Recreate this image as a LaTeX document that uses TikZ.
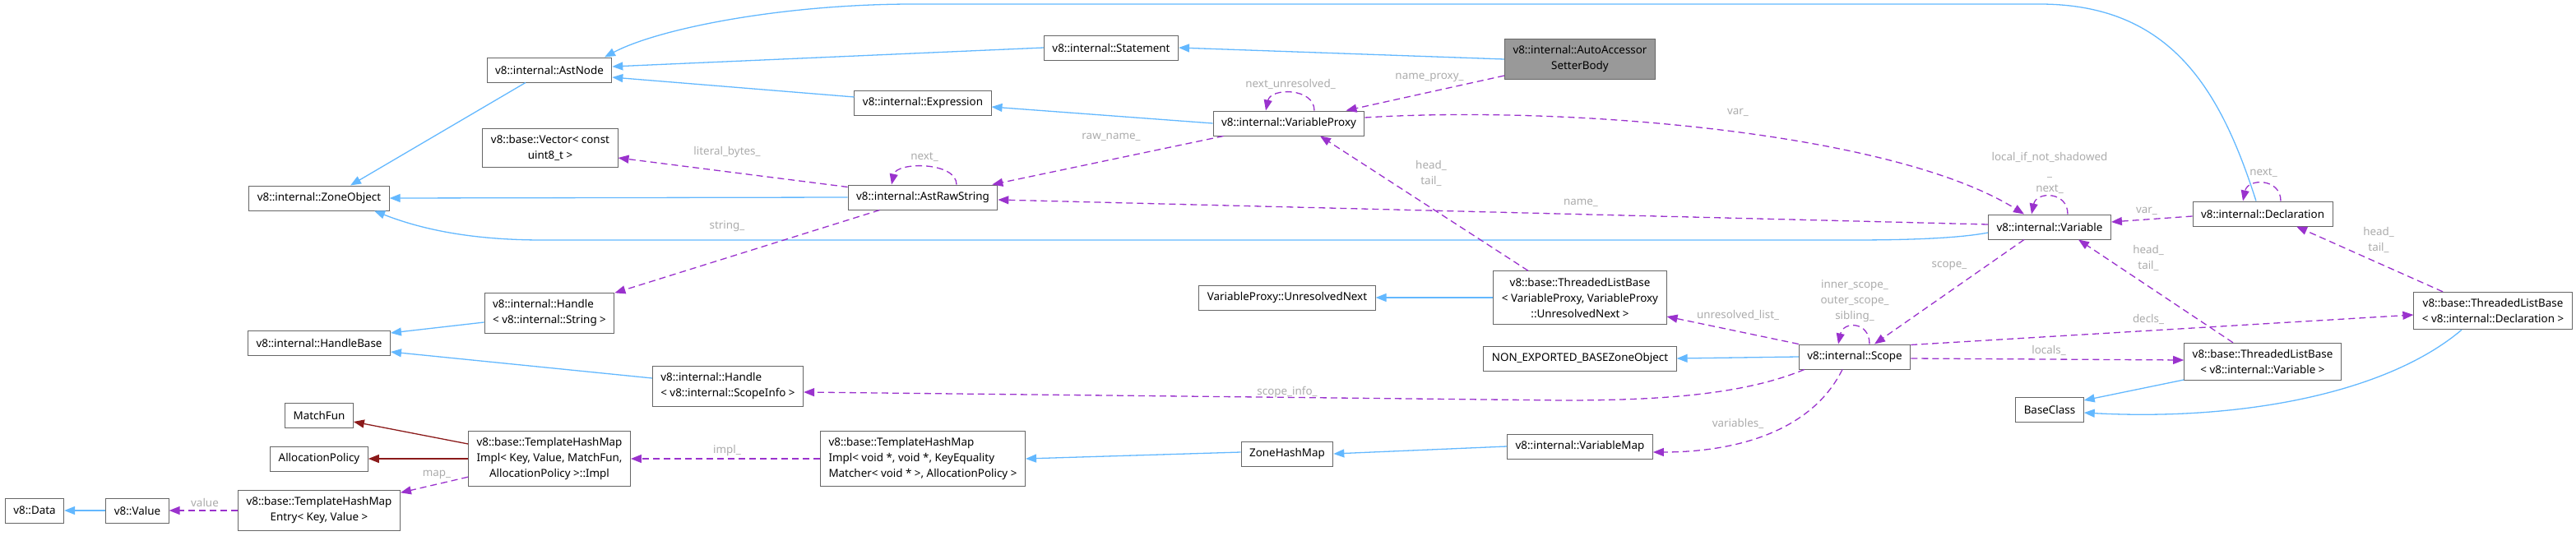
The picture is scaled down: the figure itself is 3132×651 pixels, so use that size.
\documentclass[tikz,border=0pt]{standalone}
\usepackage{fontspec}
\setmainfont{Noto Sans}
\usetikzlibrary{arrows.meta,calc}

\definecolor{inhblue}{HTML}{63B8FF}
\definecolor{usepurple}{HTML}{9A32CD}
\definecolor{tmplred}{HTML}{8B1A1A}
\definecolor{boxgray}{HTML}{666666}
\definecolor{focusgray}{HTML}{999999}
\definecolor{lblgray}{HTML}{ABABAB}

\tikzset{
    cls/.style={draw=boxgray, line width=1pt, fill=white, inner xsep=10pt, inner ysep=8pt,
        minimum height=30pt, font=\fontsize{13.4}{19}\selectfont, align=center},
    clsleft/.style={cls, align=left},
    focus/.style={cls, fill=focusgray},
    inh/.style={draw=inhblue, line width=1.3pt, -{Triangle[length=13pt,width=10pt]}},
    usage/.style={draw=usepurple, line width=1.3pt, dash pattern=on 8pt off 5pt,
        -{Triangle[length=13pt,width=10pt]}},
    tmpl/.style={draw=tmplred, line width=1.3pt, -{Triangle[length=13pt,width=10pt]}},
    lbl/.style={text=lblgray, font=\fontsize{13.4}{19}\selectfont, inner sep=0pt, align=center},
}

\begin{document}
\begin{tikzpicture}[x=1pt, y=-1pt]
    \useasboundingbox (0,0) rectangle (3132,651);

    %classes
    \node[cls] (Data) at (42,621) {v8::Data};
    \node[cls] (Value) at (167,621) {v8::Value};
    \node[cls] (ZoneObject) at (388,241) {v8::internal::ZoneObject};
    \node[cls] (HandleBase) at (388,417) {v8::internal::HandleBase};
    \node[cls] (MatchFun) at (388,505) {MatchFun};
    \node[cls] (AllocationPolicy) at (388,558) {AllocationPolicy};
    \node[cls] (HashMapEntry) at (388,621) {v8::base::TemplateHashMap\\Entry< Key, Value >};
    \node[cls] (AstNode) at (668,85) {v8::internal::AstNode};
    \node[cls] (Vector) at (669,180) {v8::base::Vector< const\\uint8\_t >};
    \node[clsleft] (HandleString) at (668,381) {v8::internal::Handle\\< v8::internal::String >};
    \node[cls] (HashMapImplKey) at (668,558) {v8::base::TemplateHashMap\\Impl< Key, Value, MatchFun,\\AllocationPolicy >::Impl};
    \node[clsleft] (HandleScopeInfo) at (885,470) {v8::internal::Handle\\< v8::internal::ScopeInfo >};
    \node[cls] (Expression) at (1122,125) {v8::internal::Expression};
    \node[cls] (AstRawString) at (1122,240) {v8::internal::AstRawString};
    \node[clsleft] (HashMapImplVoid) at (1122,558) {v8::base::TemplateHashMap\\Impl< void *, void *, KeyEquality\\Matcher< void * >, AllocationPolicy >};
    \node[cls] (Statement) at (1351,58) {v8::internal::Statement};
    \node[cls] (VariableProxy) at (1567,150) {v8::internal::VariableProxy};
    \node[cls] (UnresolvedNext) at (1565,362) {VariableProxy::UnresolvedNext};
    \node[cls] (ZoneHashMap) at (1565,552) {ZoneHashMap};
    \node[focus] (AutoAccessor) at (1921,72) {v8::internal::AutoAccessor\\SetterBody};
    \node[cls] (TLBProxy) at (1921,362) {v8::base::ThreadedListBase\\< VariableProxy, VariableProxy\\::UnresolvedNext >};
    \node[cls] (NonExported) at (1921,436) {NON\_EXPORTED\_BASEZoneObject};
    \node[cls] (VariableMap) at (1921,543) {v8::internal::VariableMap};
    \node[cls] (Scope) at (2255,434) {v8::internal::Scope};
    \node[cls] (Variable) at (2492,276) {v8::internal::Variable};
    \node[cls] (BaseClass) at (2492,498) {BaseClass};
    \node[cls] (Declaration) at (2751,260) {v8::internal::Declaration};
    \node[cls] (TLBVariable) at (2751,440) {v8::base::ThreadedListBase\\< v8::internal::Variable >};
    \node[cls] (TLBDecl) at (3031,378) {v8::base::ThreadedListBase\\< v8::internal::Declaration >};

    %inheritance (solid blue)
    \draw[inh] (Statement.west) -- ($(AstNode.east)+(0,-4)$);
    \draw[inh] ($(Expression.west)+(0,-7)$) -- ($(AstNode.east)+(0,9)$);
    \draw[inh] ($(Declaration.north)+(-8,0)$) .. controls (2700,110) and (2640,5) .. (2480,5)
        -- (1110,5) .. controls (950,5) and (800,35) .. ($(AstNode.north)+(67,0)$);
    \draw[inh] (AutoAccessor.west) -- (Statement.east);
    \draw[inh] (VariableProxy.west) -- ($(Expression.east)+(0,5)$);
    \draw[inh] ($(AstNode.south)+(-29,0)$) -- ($(ZoneObject.north)+(38,0)$);
    \draw[inh] (AstRawString.west) -- (ZoneObject.east);
    \draw[inh] ($(Variable.west)+(0,7)$) .. controls (2380,290) and (2320,292) .. (2250,292)
        -- (660,292) .. controls (570,292) and (510,278) .. ($(ZoneObject.south)+(67,0)$);
    \draw[inh] ($(HandleString.west)+(0,11)$) -- ($(HandleBase.east)+(0,-12)$);
    \draw[inh] ($(HandleScopeInfo.west)+(0,-10)$) -- ($(HandleBase.east)+(0,11)$);
    \draw[inh] (Value.west) -- (Data.east);
    \draw[inh] (TLBProxy.west) -- (UnresolvedNext.east);
    \draw[inh] (Scope.west) -- (NonExported.east);
    \draw[inh] ($(ZoneHashMap.west)+(0,-2)$) -- (HashMapImplVoid.east);
    \draw[inh] (VariableMap.west) -- (ZoneHashMap.east);
    \draw[inh] ($(TLBVariable.west)+(0,22)$) -- ($(BaseClass.east)+(0,-11)$);
    \draw[inh] ($(TLBDecl.south)+(-38,0)$) .. controls (2900,480) and (2720,512) .. ($(BaseClass.east)+(0,4)$);

    %template arguments (dark red)
    \draw[tmpl] ($(HashMapImplKey.west)+(0,-18)$) -- ($(MatchFun.east)+(0,8)$);
    \draw[tmpl] (HashMapImplKey.west) -- (AllocationPolicy.east);

    %usage (dashed purple)
    \draw[usage] ($(AutoAccessor.west)+(0,20)$) -- ($(VariableProxy.north east)+(-23,0)$);
    \draw[usage] ($(VariableProxy.north)+(31,0)$) .. controls +(0,-28) and +(6,-28) .. ($(VariableProxy.north)+(-28,0)$);
    \draw[usage] ($(VariableProxy.south west)+(13,0)$) -- ($(AstRawString.north east)+(-7,0)$);
    \draw[usage] ($(VariableProxy.east)+(0,-7)$) .. controls (1900,128) and (2300,160) .. ($(Variable.north)+(-31,0)$);
    \draw[usage] ($(AstRawString.north)+(41,0)$) .. controls +(0,-28) and +(6,-28) .. ($(AstRawString.north)+(-38,0)$);
    \draw[usage] ($(AstRawString.north west)+(0,3)$) -- ($(Vector.east)+(0,12)$);
    \draw[usage] ($(AstRawString.south west)+(39,0)$) -- (HandleString.north east);
    \draw[usage] ($(Variable.west)+(0,-3)$) -- ($(AstRawString.east)+(0,3)$);
    \draw[usage] ($(TLBProxy.north)+(-63,0)$) -- ($(VariableProxy.south)+(38,0)$);
    \draw[usage] ($(Variable.south)+(-31,0)$) -- ($(Scope.north)+(24,0)$);
    \draw[usage] ($(Variable.north)+(22,0)$) .. controls +(0,-28) and +(6,-28) .. ($(Variable.north)+(-22,0)$);
    \draw[usage] ($(Scope.north)+(18,0)$) .. controls +(0,-28) and +(6,-28) .. ($(Scope.north)+(-20,0)$);
    \draw[usage] (Scope.north west) -- ($(TLBProxy.east)+(0,23)$);
    \draw[usage] ($(Scope.south west)+(7,0)$) .. controls (2120,480) and (2020,487) .. (1900,487)
        -- ($(HandleScopeInfo.east)+(0,7)$);
    \draw[usage] ($(Scope.south)+(-15,0)$) .. controls (2200,530) and (2100,550) .. ($(VariableMap.east)+(0,7)$);
    \draw[usage] ($(Scope.north east)+(0,1)$) -- ($(TLBDecl.west)+(0,5)$);
    \draw[usage] ($(Scope.east)+(0,2)$) -- ($(TLBVariable.west)+(0,-2)$);
    \draw[usage] ($(TLBVariable.north)+(-36,0)$) -- ($(Variable.south)+(35,0)$);
    \draw[usage] ($(Declaration.west)+(0,3)$) -- ($(Variable.east)+(0,-6)$);
    \draw[usage] ($(Declaration.north)+(22,0)$) .. controls +(0,-28) and +(6,-28) .. ($(Declaration.north)+(-24,0)$);
    \draw[usage] ($(TLBDecl.north)+(-61,0)$) -- ($(Declaration.south)+(41,0)$);
    \draw[usage] (HashMapImplVoid.west) -- (HashMapImplKey.east);
    \draw[usage] ($(HashMapImplKey.south west)+(0,-12)$) -- ($(HashMapEntry.north east)+(0,3)$);
    \draw[usage] (HashMapEntry.west) -- (Value.east);

    %labels
    \node[lbl] (lNameProxy) at (1738,94) {name\_proxy\_};
    \node[lbl] (lNextUnres) at (1569,102) {next\_unresolved\_};
    \node[lbl] (lRawName) at (1351,167) {raw\_name\_};
    \node[lbl] (lVarProxy) at (2113,137) {var\_};
    \node[lbl] (lNextRaw) at (1124,191) {next\_};
    \node[lbl] (lLiteral) at (884,185) {literal\_bytes\_};
    \node[lbl] (lString) at (884,275) {string\_};
    \node[lbl] (lName) at (1922,247) {name\_};
    \node[lbl] (lHeadProxy) at (1740,211) {head\_\\tail\_};
    \node[lbl] (lVarLoop) at (2492,210) {local\_if\_not\_shadowed\\\_\\next\_};
    \node[lbl] (lScope) at (2370,323) {scope\_};
    \node[lbl] (lScopeLoop) at (2255,366) {inner\_scope\_\\outer\_scope\_\\sibling\_};
    \node[lbl] (lUnresolved) at (2113,383) {unresolved\_list\_};
    \node[lbl] (lScopeInfo) at (1565,477) {scope\_info\_};
    \node[lbl] (lVariables) at (2113,515) {variables\_};
    \node[lbl] (lDecls) at (2612,388) {decls\_};
    \node[lbl] (lLocals) at (2491,426) {locals\_};
    \node[lbl] (lHeadVar) at (2612,314) {head\_\\tail\_};
    \node[lbl] (lVarDecl) at (2610,257) {var\_};
    \node[lbl] (lNextDecl) at (2752,210) {next\_};
    \node[lbl] (lHeadDecl) at (2892,292) {head\_\\tail\_};
    \node[lbl] (lImpl) at (884,548) {impl\_};
    \node[lbl] (lMap) at (531,577) {map\_};
    \node[lbl] (lValue) at (249,611) {value};
\end{tikzpicture}
\end{document}
